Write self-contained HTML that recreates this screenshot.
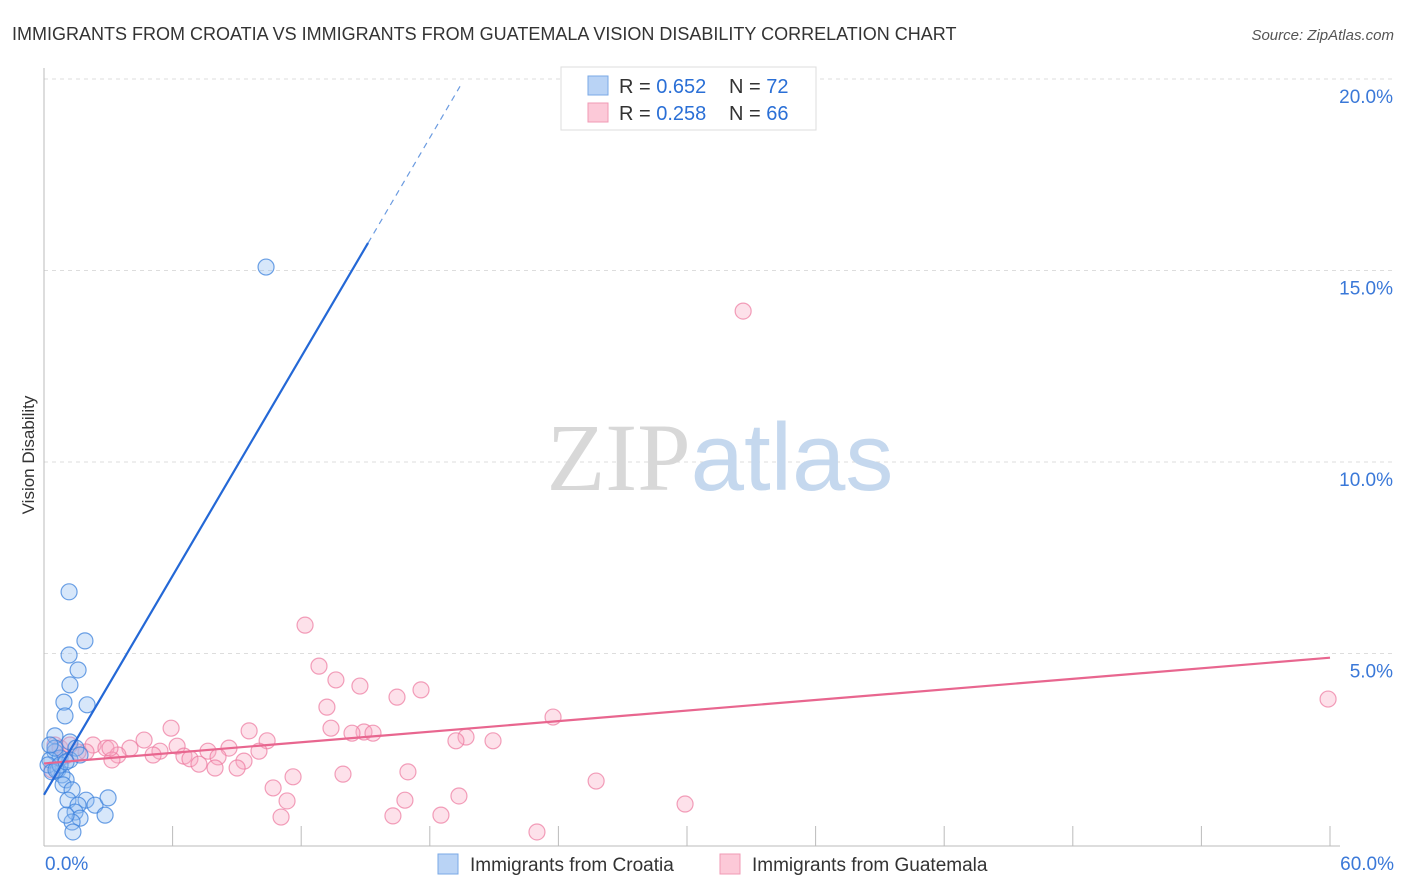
<!DOCTYPE html>
<html><head><meta charset="utf-8">
<style>
body{margin:0;background:#fff;font-family:"Liberation Sans",sans-serif;}
#wrap{position:relative;width:1406px;height:892px;overflow:hidden;}
svg text{font-family:"Liberation Sans",sans-serif;}
</style></head>
<body>
<div id="wrap">
<svg id="chart" width="1406" height="892">
<text x="12" y="40" font-size="18" fill="#333">IMMIGRANTS FROM CROATIA VS IMMIGRANTS FROM GUATEMALA VISION DISABILITY CORRELATION CHART</text>
<text x="1394" y="40" font-size="15" fill="#555" font-style="italic" text-anchor="end">Source: ZipAtlas.com</text>
<text transform="translate(34,455) rotate(-90)" font-size="17" fill="#333" text-anchor="middle">Vision Disability</text>
<g id="grid"></g>
<text x="720" y="490" font-size="96" text-anchor="middle"><tspan fill="#d8d8d8" font-family="Liberation Serif">ZIP</tspan><tspan fill="#c5d8ee">atlas</tspan></text>
<g id="marks"></g>
<g id="legend">
<rect x="561" y="67" width="255" height="63" fill="#fff" stroke="#ddd"/>
<rect x="588" y="76" width="20" height="19" fill="#b9d3f5" stroke="#7aa8e6"/>
<rect x="588" y="103" width="20" height="19" fill="#fcc9d8" stroke="#f09ab5"/>
<text x="619" y="93" font-size="20" fill="#333">R = <tspan fill="#2a6fd6">0.652</tspan></text>
<text x="729" y="93" font-size="20" fill="#333">N = <tspan fill="#2a6fd6">72</tspan></text>
<text x="619" y="120" font-size="20" fill="#333">R = <tspan fill="#2a6fd6">0.258</tspan></text>
<text x="729" y="120" font-size="20" fill="#333">N = <tspan fill="#2a6fd6">66</tspan></text>
</g>
<g>
<rect x="438" y="854" width="20" height="20" fill="#b9d3f5" stroke="#7aa8e6"/>
<text x="470" y="871" font-size="19" fill="#333">Immigrants from Croatia</text>
<rect x="720" y="854" width="20" height="20" fill="#fcc9d8" stroke="#f09ab5"/>
<text x="752" y="871" font-size="19" fill="#333">Immigrants from Guatemala</text>
</g>
</svg>
</div>
<script>
const yTicks=[5,10,15,20];
const yTickLabels=["5.0%","10.0%","15.0%","20.0%"];
const xTickLabels=["0.0%","60.0%"];
const croatiaX=[10.36,1.17,1.91,1.17,1.59,1.21,0.93,2.01,0.98,0.51,1.21,1.49,0.51,0.75,0.28,0.19,0.65,0.84,1.03,0.37,1.21,1.68,0.89,1.31,1.12,1.96,2.38,2.99,1.59,1.45,1.68,1.31,2.85,1.35,1.03,0.51,0.28,0.75,0.56,1.03];
const croatiaY=[15.09,6.61,5.33,4.96,4.57,4.18,3.73,3.66,3.37,2.85,2.69,2.53,2.43,2.27,2.22,2.09,1.96,1.83,1.70,1.91,2.22,2.35,1.57,1.44,1.17,1.17,1.04,1.23,1.04,0.86,0.70,0.60,0.78,0.34,0.78,2.53,2.61,2.09,1.96,2.17];
const guatX=[32.62,12.18,12.83,13.62,14.74,17.59,16.47,13.20,23.75,9.57,13.39,5.93,14.93,14.37,15.35,19.69,20.95,19.22,4.67,10.41,8.63,6.21,7.65,4.01,5.41,2.29,2.89,3.45,3.17,5.09,6.53,6.81,8.12,10.03,9.33,7.23,7.98,9.01,3.08,1.96,0.98,0.75,0.51,11.62,13.95,16.98,25.76,10.69,19.36,16.84,11.34,29.91,11.06,16.28,18.52,23.00,0.37,1.21,1.59,59.91];
const guatY=[13.94,5.74,4.67,4.31,4.15,4.05,3.86,3.60,3.34,2.98,3.05,3.05,2.95,2.92,2.92,2.82,2.72,2.72,2.74,2.72,2.53,2.58,2.45,2.53,2.45,2.61,2.53,2.35,2.22,2.35,2.32,2.25,2.30,2.45,2.19,2.11,2.01,2.01,2.53,2.43,2.32,2.53,2.61,1.78,1.85,1.91,1.67,1.49,1.28,1.17,1.15,1.07,0.73,0.76,0.78,0.34,1.96,2.61,2.43,3.81];
const croatiaTrend=[1.31,0.953]; // intercept, slope
const croatiaTrendEnd=[15.12,19.41];
const guatTrend=[2.13,0.046];
const guatTrendEnd=[60];

const X0=44,X1=1330,Y0=845,YPX=38.3;
const sx=v=>X0+(v/60)*(X1-X0);
const sy=v=>Y0-v*YPX;
const NS="http://www.w3.org/2000/svg";
function mk(tag,attrs,parent){const e=document.createElementNS(NS,tag);for(const k in attrs)e.setAttribute(k,attrs[k]);parent.appendChild(e);return e;}
const grid=document.getElementById('grid');
const marks=document.getElementById('marks');
yTicks.forEach((t,i)=>{
  const l=mk('line',{x1:X0,x2:1394,y1:sy(t),y2:sy(t),stroke:'#ddd','stroke-dasharray':'4,4'},grid);
  
  
  const tx=mk('text',{x:1393,y:sy(t)+24,'font-size':19,fill:'#3a78d8','text-anchor':'end'},grid);
  tx.textContent=yTickLabels[i];
  
  
});
const ax=mk('line',{x1:X0,x2:X0,y1:68,y2:Y0+1,stroke:'#bbb'},grid);


const bx=mk('line',{x1:X0,x2:X1+10,y1:Y0+1,y2:Y0+1,stroke:'#bbb'},grid);


for(let i=1;i<=10;i++){
  const t=mk('line',{x1:sx(i*6),x2:sx(i*6),y1:Y0-19,y2:Y0+1,stroke:'#bbb'},grid);
  
  
}
[[0,'start',45],[60,'end',1394]].forEach((d,i)=>{
  const t=mk('text',{x:d[2],y:870,'font-size':19,fill:'#3a78d8','text-anchor':d[1]},grid);
  t.textContent=xTickLabels[i];
  
  
});
guatX.forEach((x,i)=>{
  const c=mk('circle',{cx:sx(x),cy:sy(guatY[i]),r:8,fill:'rgba(248,170,195,0.35)',stroke:'rgba(236,120,158,0.7)','stroke-width':1.2},marks);
  
  
});
croatiaX.forEach((x,i)=>{
  const c=mk('circle',{cx:sx(x),cy:sy(croatiaY[i]),r:8,fill:'rgba(140,185,240,0.35)',stroke:'rgba(60,130,220,0.75)','stroke-width':1.2},marks);
  
  
});
const pl=mk('line',{x1:sx(0),y1:sy(guatTrend[0]),x2:sx(guatTrendEnd[0]),y2:sy(guatTrend[0]+guatTrend[1]*guatTrendEnd[0]),stroke:'#e8668f','stroke-width':2.2},marks);


const e1=croatiaTrendEnd[0],e2=croatiaTrendEnd[1];
const bl=mk('line',{x1:sx(0),y1:sy(croatiaTrend[0]),x2:sx(e1),y2:sy(croatiaTrend[0]+croatiaTrend[1]*e1),stroke:'#2468d6','stroke-width':2.2},marks);


const bd=mk('line',{x1:sx(e1),y1:sy(croatiaTrend[0]+croatiaTrend[1]*e1),x2:sx(e2),y2:sy(croatiaTrend[0]+croatiaTrend[1]*e2),stroke:'#6b9be0','stroke-width':1.2,'stroke-dasharray':'6,5'},marks);


</script>
</body></html>
